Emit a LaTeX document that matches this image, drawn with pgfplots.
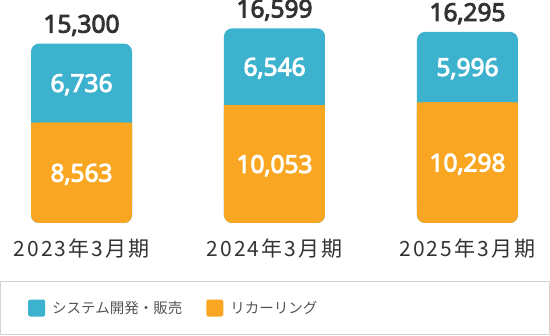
\documentclass[border=0pt]{standalone}
\usepackage{fontspec}
\setmainfont{Noto Sans CJK JP}
\newfontfamily\numfont{Open Sans}[AutoFakeBold=4]
\usepackage{pgfplots}
\pgfplotsset{compat=1.18}
\definecolor{cblue}{HTML}{3CB2CE}
\definecolor{corange}{HTML}{F9A722}
\definecolor{ctext}{HTML}{333333}
\definecolor{cleg}{HTML}{555555}
\definecolor{cborder}{HTML}{D3D3D3}
\tikzset{lbl/.style={font=\numfont\bfseries\fontsize{24.5}{24.5}\selectfont, anchor=base, inner sep=0pt}}
\pgfplotsset{
 common/.style={scale only axis, width=550pt, height=223pt,
   xmin=-0.4223, xmax=2.4275, ymin=0, ymax=19020, clip=false,
   axis line style={draw=none}, major tick length=0pt, ytick=\empty, bar width=101pt},
 legimg/.style={legend image code/.code={\fill[##1, rounded corners=2pt] (0pt,-8.5pt) rectangle (17pt,8.5pt); \path (24pt,0pt);}}
}
\begin{document}
\begin{tikzpicture}[x=1pt,y=1pt]
\begin{axis}[common, ybar, xtick={0,1,2},
  xticklabels={2023年3月期,2024年3月期,2025年3月期},
  xticklabel style={font=\addfontfeatures{LetterSpace=10}\fontsize{21}{21}\selectfont, text=ctext, anchor=base, yshift=-34pt},
  legend style={at={(0.0509,-0.3812)}, anchor=west, draw=none, fill=none, legend columns=2,
    font=\fontsize{14.5}{14.5}\selectfont, text=cleg, inner sep=0pt, nodes={inner sep=0pt},
    /tikz/every even column/.append style={column sep=24pt}},
  legend cell align=left]
\addplot[fill=cblue, draw=none, rounded corners=8pt, bar shift=0pt, legimg] coordinates {(0,15300) (1,16599) (2,16295)};
\addplot[fill=corange, draw=none, rounded corners=8pt, bar shift=0pt, legimg] coordinates {(0,8563) (1,10053) (2,10298)};
\legend{システム開発・販売, リカーリング}
\end{axis}
\begin{axis}[common, ybar stacked, xtick=\empty]
\addplot[draw=none, fill=none] coordinates {(0,2000) (1,2000) (2,2000)};
\addplot[fill=corange, draw=none] coordinates {(0,6563) (1,8053) (2,8298)};
\end{axis}
\begin{axis}[common, xtick=\empty]
\node[lbl, text=ctext, yshift=11pt] at (axis cs:0,15300) {15,300};
\node[lbl, text=ctext, yshift=11pt] at (axis cs:1,16599) {16,599};
\node[lbl, text=ctext, yshift=11pt] at (axis cs:2,16295) {16,295};
\node[lbl, text=white, yshift=-8.8pt] at (axis cs:0,11931.5) {6,736};
\node[lbl, text=white, yshift=-8.8pt] at (axis cs:1,13326) {6,546};
\node[lbl, text=white, yshift=-8.8pt] at (axis cs:2,13296.5) {5,996};
\node[lbl, text=white, yshift=-8.8pt] at (axis cs:0,4281.5) {8,563};
\node[lbl, text=white, yshift=-8.8pt] at (axis cs:1,5026.5) {10,053};
\node[lbl, text=white, yshift=-8.8pt] at (axis cs:2,5149) {10,298};
\end{axis}
\draw[cborder, line width=1pt] (0.5,-112) rectangle (549.5,-58.5);
\pgfresetboundingbox
\path[use as bounding box] (0,-113) rectangle (550,223);
\end{tikzpicture}
\end{document}
